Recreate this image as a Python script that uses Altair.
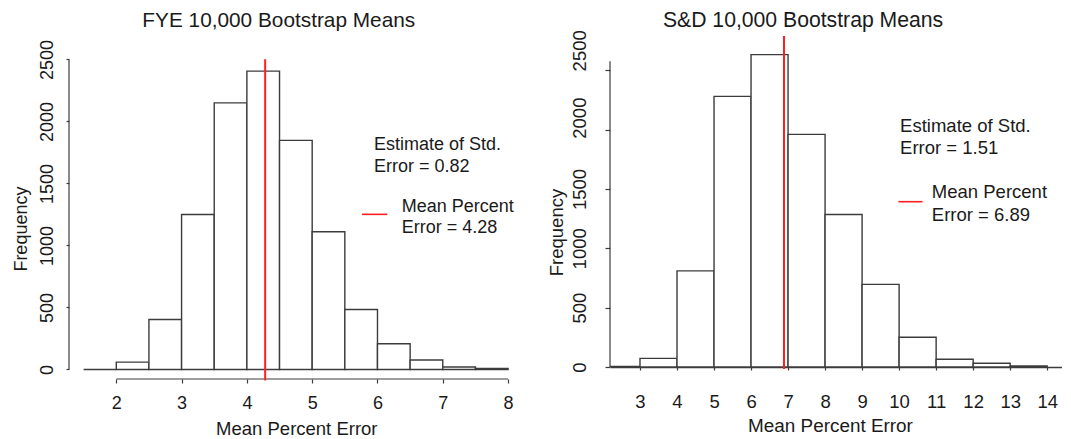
import altair as alt
import pandas as pd

FONT = "Liberation Sans"
INK = "#1a1a1a"
LINE = "#3c3c3c"
RED = "#ff1f1f"

# ---- data ----
fye_edges = [1.5, 2.0, 2.5, 3.0, 3.5, 4.0, 4.5, 5.0, 5.5, 6.0, 6.5, 7.0, 7.5, 8.0]
fye_counts = [0, 59, 403, 1250, 2150, 2406, 1847, 1110, 484, 207, 76, 20, 8]
fye_mean = 4.28
fye_se = 0.82
fye_xticks = [2, 3, 4, 5, 6, 7, 8]

sd_edges = [2, 3, 4, 5, 6, 7, 8, 9, 10, 11, 12, 13, 14]
sd_counts = [5, 73, 810, 2280, 2632, 1960, 1285, 696, 251, 65, 31, 8]
sd_mean = 6.89
sd_se = 1.51
sd_xticks = [3, 4, 5, 6, 7, 8, 9, 10, 11, 12, 13, 14]

freq_ticks = [0, 500, 1000, 1500, 2000, 2500]

titles = ["FYE 10,000 Bootstrap Means", "S&D 10,000 Bootstrap Means"]
x_title = "Mean Percent Error"
y_title = "Frequency"


def bins(edges, counts):
    return pd.DataFrame({"lo": edges[:-1], "hi": edges[1:], "n": counts})


one = alt.Data(values=[{}])


def txt(x, y, s, size, align="left"):
    return alt.Chart(one).mark_text(
        align=align, baseline="alphabetic", font=FONT, fontSize=size, color=INK
    ).encode(x=alt.datum(x), y=alt.datum(y), text=alt.value(s))


# ---------------- left panel ----------------
lx = alt.Scale(domain=[1.276, 8.305], nice=False, zero=False)
ly = alt.Scale(domain=[-77, 2689], nice=False, zero=False)

l_bars = alt.Chart(bins(fye_edges, fye_counts)).mark_rect(
    fill="white", stroke=LINE, strokeWidth=1.4
).encode(
    x=alt.X("lo:Q", scale=lx, axis=alt.Axis(
        values=fye_xticks, format="d", domain=False, grid=False, tickSize=4,
        tickColor=LINE, tickWidth=1.2, labelFont=FONT, labelFontSize=18,
        labelColor=INK, labelBaseline="alphabetic", labelAlign="center",
        labelPadding=25.8, title=x_title, titleFont=FONT, titleFontSize=18.5,
        titleFontWeight="normal", titleColor=INK, titleX=227.3, titleY=55.7,
        titleBaseline="alphabetic", titleAlign="center")),
    x2="hi:Q",
    y=alt.Y("n:Q", scale=ly, axis=alt.Axis(
        values=freq_ticks, format="d", domain=False, grid=False, tickSize=3,
        tickColor=LINE, tickWidth=1.2, labelFont=FONT, labelFontSize=18,
        labelColor=INK, labelAngle=270, labelAlign="center",
        labelBaseline="alphabetic", labelPadding=13.5, title=y_title,
        titleFont=FONT, titleFontSize=18, titleFontWeight="normal",
        titleColor=INK, titleAngle=270, titleX=-42.3, titleY=192.6,
        titleBaseline="alphabetic", titleAlign="center")),
    y2=alt.datum(0),
)

l_yaxis = alt.Chart(one).mark_rule(color=LINE, strokeWidth=1.2).encode(
    x=alt.datum(1.276), y=alt.datum(0), y2=alt.datum(2500))
l_xaxis = alt.Chart(one).mark_rule(color=LINE, strokeWidth=1.2).encode(
    x=alt.datum(2), x2=alt.datum(8), y=alt.datum(-77))
l_mean = alt.Chart(one).mark_rule(color=RED, strokeWidth=2).encode(
    x=alt.datum(fye_mean), y=alt.datum(-90), y2=alt.datum(2502))
l_key = alt.Chart(one).mark_rule(color=RED, strokeWidth=1.6).encode(
    x=alt.datum(5.763), x2=alt.datum(6.150), y=alt.datum(1250.8))

left = alt.layer(
    l_bars, l_yaxis, l_xaxis, l_mean, l_key,
    txt(4.488, 2761, titles[0], 20.8, align="center"),
    txt(5.946, 1766.6, "Estimate of Std.", 18),
    txt(5.946, 1594.0, f"Error = {fye_se:.2f}", 18),
    txt(6.371, 1271.8, "Mean Percent", 18),
    txt(6.371, 1102.5, f"Error = {fye_mean:.2f}", 18),
).properties(width=459, height=343)

# ---------------- right panel ----------------
rx = alt.Scale(domain=[2.19, 14.4], nice=False, zero=False)
ry = alt.Scale(domain=[0, 2789], nice=False, zero=False)

r_bars = alt.Chart(bins(sd_edges, sd_counts)).mark_rect(
    fill="white", stroke=LINE, strokeWidth=1.4, clip=True
).encode(
    x=alt.X("lo:Q", scale=rx, axis=alt.Axis(
        values=sd_xticks, format="d", domain=True, domainColor=LINE,
        domainWidth=1.3, grid=False, tickSize=3, tickColor=LINE, tickWidth=1.2,
        labelFont=FONT, labelFontSize=18.5, labelColor=INK,
        labelBaseline="alphabetic", labelAlign="center", labelPadding=37.5,
        title=x_title, titleFont=FONT, titleFontSize=18.9,
        titleFontWeight="normal", titleColor=INK, titleX=220, titleY=64,
        titleBaseline="alphabetic", titleAlign="center")),
    x2="hi:Q",
    y=alt.Y("n:Q", scale=ry, axis=alt.Axis(
        values=freq_ticks, format="d", domain=False, grid=False, tickSize=5,
        tickColor=LINE, tickWidth=1.2, labelFont=FONT, labelFontSize=18.5,
        labelColor=INK, labelAngle=270, labelAlign="center",
        labelBaseline="alphabetic", labelPadding=20,
        labelOffset={"condition": [{"test": "datum.value == 2500", "value": -20},
                                   {"test": "datum.value == 2000", "value": -12}],
                     "value": 0},
        title=y_title, titleFont=FONT, titleFontSize=18.5,
        titleFontWeight="normal", titleColor=INK, titleAngle=270, titleX=-48,
        titleY=196, titleBaseline="alphabetic", titleAlign="center")),
    y2=alt.datum(0),
)

r_yaxis = alt.Chart(one).mark_rule(color=LINE, strokeWidth=1.2).encode(
    x=alt.datum(2.19), y=alt.datum(0), y2=alt.datum(2576))
r_mean = alt.Chart(one).mark_rule(color=RED, strokeWidth=2).encode(
    x=alt.datum(sd_mean), y=alt.datum(-17), y2=alt.datum(2789))
r_key = alt.Chart(one).mark_rule(color=RED, strokeWidth=1.6).encode(
    x=alt.datum(9.981), x2=alt.datum(10.632), y=alt.datum(1392.8))

right = alt.layer(
    r_bars, r_yaxis, r_mean, r_key,
    txt(7.405, 2866, titles[1], 21.2, align="center"),
    txt(10.027, 1984.0, "Estimate of Std.", 18.5),
    txt(10.027, 1794.7, f"Error = {sd_se:.2f}", 18.5),
    txt(10.884, 1426.5, "Mean Percent", 18.5),
    txt(10.884, 1228.5, f"Error = {sd_mean:.2f}", 18.5),
).properties(width=452, height=331)

chart = alt.hconcat(left, right, spacing=82, bounds="flush").properties(
    padding={"left": 4, "top": 1, "right": 0, "bottom": 0},
    background="white",
).configure_view(stroke=None)

chart.save("out.html", embed_options={"renderer": "svg", "actions": False})
